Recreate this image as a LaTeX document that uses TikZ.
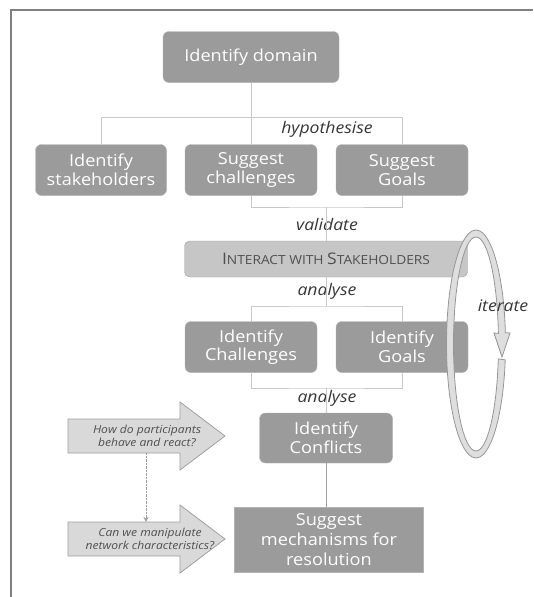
\documentclass[tikz,border=0pt]{standalone}
\usepackage{fontspec}
\setmainfont{Open Sans}[FakeStretch=1.1]
\usepackage{tikz}
\usetikzlibrary{calc, arrows.meta}
\definecolor{boxgray}{RGB}{155,155,155}
\definecolor{boxline}{RGB}{178,178,178}
\definecolor{softgray}{RGB}{198,198,198}
\definecolor{softline}{RGB}{165,165,165}
\definecolor{softtext}{RGB}{80,80,80}
\definecolor{qgray}{RGB}{217,217,217}
\definecolor{qline}{RGB}{160,160,160}
\definecolor{qtext}{RGB}{80,80,80}
\definecolor{lbltext}{RGB}{55,55,55}
\definecolor{treegray}{RGB}{200,200,200}
\definecolor{loopgray}{RGB}{222,222,222}
\definecolor{loopline}{RGB}{150,150,150}
\tikzstyle{box}   = [draw=boxline, fill=boxgray, rounded corners=6pt, text=white, align=center,
                     inner sep=0pt, minimum width=132pt, minimum height=51pt,
                     font=\fontsize{16.5}{18.5}\selectfont]
\tikzstyle{soft}  = [draw=softline, fill=softgray, rounded corners=5pt, text=softtext,
                     inner sep=0pt, minimum width=283pt, minimum height=36pt]
\tikzstyle{quest} = [text=qtext, align=center, inner sep=0pt, font=\fontsize{11}{13}\selectfont\itshape]
\tikzstyle{qarrow}= [draw=qline, fill=qgray, line width=0.8pt]
\tikzstyle{lbl}   = [text=lbltext, inner sep=0pt, font=\fontsize{16}{18}\selectfont\itshape]
\tikzstyle{tree}  = [draw=treegray, line width=0.9pt]
\tikzstyle{frame} = [draw=gray, line width=1.5pt]
\tikzstyle{band}  = [draw=loopline, fill=loopgray, line width=0.8pt]
\newcommand{\fsc}[2]{{\fontsize{16}{18}\selectfont #1}{\fontsize{12.5}{14}\selectfont #2}}

\begin{document}
\begin{tikzpicture}[x=1pt, y=-1pt]

\useasboundingbox (0,0) rectangle (533,597);
\draw [frame] (11,597) -- (11,10) -- (533,10);

% nodes
\node [box, minimum width=176pt] at ( 251 ,  57 ) (domain)    {Identify domain};
\node [box, minimum width=131pt] at ( 101 , 170 ) (stake)     {Identify\\stakeholders};
\node [box]                      at ( 251 , 170 ) (schall)    {Suggest\\challenges};
\node [box]                      at ( 402 , 170 ) (sgoals)    {Suggest\\Goals};
\node [soft]                     at ( 326 , 259 ) (interact)  {\fsc{I}{NTERACT WITH }\fsc{S}{TAKEHOLDERS}};
\node [box]                      at ( 251 , 347 ) (ichall)    {Identify\\Challenges};
\node [box]                      at ( 402 , 347 ) (igoals)    {Identify\\Goals};
\node [box, minimum width=133pt, minimum height=50pt] at ( 326 , 438 ) (conflicts) {Identify\\Conflicts};
\node [box, sharp corners, minimum width=189pt, minimum height=65pt, font=\fontsize{16.5}{20}\selectfont]
                                 at ( 329 , 540 ) (resolve)   {Suggest\\mechanisms for\\resolution};

% labels
\node [lbl] at ( 327 , 129 ) (hyp)   {hypothesise};
\node [lbl] at ( 327 , 224 ) (val)   {validate};
\node [lbl] at ( 327 , 291 ) (ana1)  {analyse};
\node [lbl] at ( 327 , 398 ) (ana2)  {analyse};

% joints
\coordinate (j1) at ( 251 , 117 );
\coordinate (j2) at ( 326 , 207 );
\coordinate (j3) at ( 326 , 306 );
\coordinate (j4) at ( 326 , 388 );
\coordinate (qc1) at ( 147 , 436 );
\coordinate (qc2) at ( 150 , 539 );
\coordinate (loopc) at ( 476 , 344 );

% edges
\draw [tree] (domain.south) -- (j1);
\draw [tree] (stake.north) |- (sgoals.north |- j1) -- (sgoals.north);
\draw [tree] (j1) -- (schall.north);
\draw [tree] (schall.south) |- (j2) -| (sgoals.south);
\draw [tree] (j2) -- (interact.north);
\draw [tree] (interact.south) -- (j3);
\draw [tree] (ichall.north) |- (j3) -| (igoals.north);
\draw [tree] (ichall.south) |- (j4) -| (igoals.south);
\draw [tree] (j4) -- (conflicts.north);
\draw [tree, draw=qline] (conflicts.south) -- (conflicts.south |- resolve.north);

% question arrows
\draw [qarrow] ($(qc1)+(-79,-17)$) -- ($(qc1)+(33,-17)$) -- ($(qc1)+(33,-34)$) -- ($(qc1)+(78,0)$)
               -- ($(qc1)+(33,34)$) -- ($(qc1)+(33,17)$) -- ($(qc1)+(-79,17)$) -- cycle;
\draw [qarrow] ($(qc2)+(-82,-17)$) -- ($(qc2)+(30,-17)$) -- ($(qc2)+(30,-34)$) -- ($(qc2)+(75,0)$)
               -- ($(qc2)+(30,34)$) -- ($(qc2)+(30,17)$) -- ($(qc2)+(-82,17)$) -- cycle;
\node [quest] at (qc1) (q1) {How do participants\\behave and react?};
\node [quest] at (qc2) (q2) {Can we manipulate\\network characteristics?};
\coordinate (d1) at ($(qc1)+(-1,17)$);
\coordinate (d2) at ($(qc2)+(-4,-17)$);
\draw [draw=qline, densely dotted, -{Stealth[length=5pt, width=5pt]}] (d1) -- (d2);

% iterate loop
\draw [band] ($(loopc)+(8:29.5 and 114)$) arc [start angle=8, end angle=354.3, x radius=29.5, y radius=114]
             -- ($(loopc)+(34,-11)$) -- ($(loopc)+(26,13)$) -- ($(loopc)+(18,-11)$)
             -- ($(loopc)+(354.3:22.5 and 107)$) arc [start angle=354.3, end angle=8, x radius=22.5, y radius=107]
             -- cycle;
\node [lbl] at ( 503 , 306 ) (iter)  {iterate};

\end{tikzpicture}
\end{document}
